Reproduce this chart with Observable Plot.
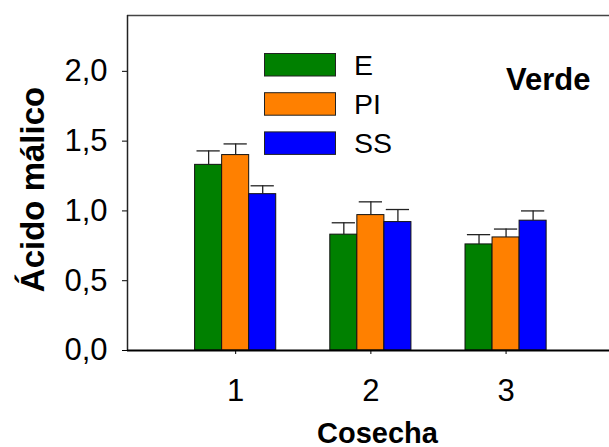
<!DOCTYPE html>
<html><head><meta charset="utf-8">
<script src="https://cdn.jsdelivr.net/npm/d3@7"></script>
<script src="https://cdn.jsdelivr.net/npm/@observablehq/plot@0.6"></script>
<style>body{margin:0;background:#fff;overflow:hidden}</style>
</head><body><div id="chart"></div>
<script>
const cosecha = [1, 2, 3];
const series = ["E", "PI", "SS"];
const colors = ["#008000", "#ff8000", "#0000ff"];
const valE = [1.33, 0.83, 0.76];
const errE = [0.10, 0.085, 0.07];
const valPI = [1.40, 0.97, 0.81];
const errPI = [0.08, 0.095, 0.06];
const valSS = [1.12, 0.92, 0.93];
const errSS = [0.06, 0.09, 0.07];
const yTicks = [0, 0.5, 1, 1.5, 2];
const yLabel = "Ácido málico";
const xLabel = "Cosecha";
const panel = "Verde";

const FONT = "Arial, 'Liberation Sans', sans-serif";
const vals = [valE, valPI, valSS], errs = [errE, errPI, errSS];
const data = [];
series.forEach((s, i) => cosecha.forEach((c, j) =>
  data.push({s, c, pos: c + (i - 1) * 0.2, v: vals[i][j], e: errs[i][j]})));

function legend(index, scales, values, dims) {
  const g = d3.create("svg:g");
  series.forEach((s, i) => {
    const y = 53.5 + i * 39.2;
    g.append("rect").attr("x", 264.5).attr("y", y).attr("width", 71).attr("height", 22.5)
      .attr("fill", colors[i]).attr("stroke", "#222").attr("stroke-width", 1);
    g.append("text").attr("x", 354).attr("y", y + 21.5).text(s)
      .attr("text-anchor", "start")
      .attr("font-size", 28.5).attr("font-family", FONT).attr("fill", "#000");
  });
  return g.node();
}

const chart = Plot.plot({
  width: 609, height: 447,
  marginLeft: 127, marginRight: 0, marginTop: 15, marginBottom: 97,
  style: {fontFamily: FONT, fontSize: "31px", color: "#000", background: "#fff", overflow: "visible"},
  x: {domain: [0.2, 3.765], label: null},
  y: {domain: [0, 2.4], label: null},
  marks: [
    Plot.axisX({ticks: cosecha, tickSize: 4, tickPadding: 24, label: null, tickFormat: d => String(d), fontSize: 31}),
    Plot.axisY({ticks: yTicks, tickSize: 5, tickPadding: 15, label: null, fontSize: 31,
      tickFormat: d => d.toFixed(1).replace(".", ",")}),
    Plot.rect(data, {x1: d => d.pos - 0.1, x2: d => d.pos + 0.1, y1: 0, y2: "v",
      fill: d => colors[series.indexOf(d.s)], stroke: "#111", strokeWidth: 1}),
    Plot.ruleX(data, {x: "pos", y1: "v", y2: d => d.v + d.e, stroke: "#222", strokeWidth: 1.3}),
    Plot.ruleY(data, {y: d => d.v + d.e, x1: d => d.pos - 0.086, x2: d => d.pos + 0.086, stroke: "#222", strokeWidth: 1.3}),
    Plot.ruleY([2.4], {stroke: "#444", strokeWidth: 1.5}),
    Plot.ruleX([0.2], {stroke: "#222", strokeWidth: 1.5}),
    Plot.ruleY([0], {stroke: "#000", strokeWidth: 2}),
    legend,
    Plot.text([panel], {text: d => d, frameAnchor: "top-right", dx: -19, dy: 74, lineAnchor: "bottom",
      textAnchor: "end", fontSize: 31, fontWeight: "bold", fill: "#000"}),
    Plot.text([xLabel], {text: d => d, frameAnchor: "bottom", dx: 9, dy: 92, lineAnchor: "bottom",
      textAnchor: "middle", fontSize: 29, fontWeight: "bold", fill: "#000"}),
    Plot.text([yLabel], {text: d => d, frameAnchor: "left", dx: -84, dy: 6.5, rotate: -90, lineAnchor: "bottom",
      textAnchor: "middle", fontSize: 33, fontWeight: "bold", fill: "#000"})
  ]
});
document.getElementById("chart").appendChild(chart);
</script>
</body></html>
